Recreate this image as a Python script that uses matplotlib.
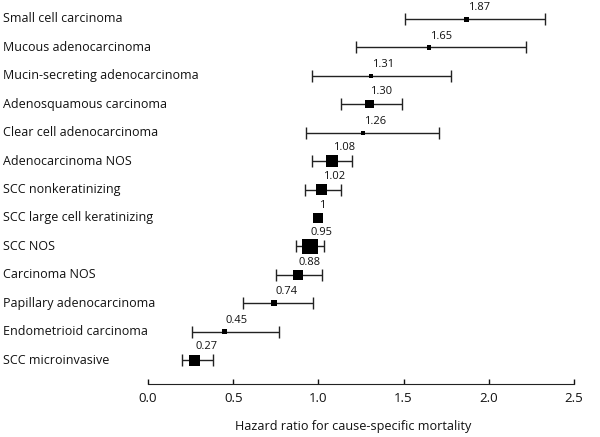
import numpy as np
import matplotlib.pyplot as plt
from matplotlib.transforms import blended_transform_factory

plt.rcParams['font.family'] = ['Open Sans', 'DejaVu Sans']

categories = [
    'Small cell carcinoma',
    'Mucous adenocarcinoma',
    'Mucin-secreting adenocarcinoma',
    'Adenosquamous carcinoma',
    'Clear cell adenocarcinoma',
    'Adenocarcinoma NOS',
    'SCC nonkeratinizing',
    'SCC large cell keratinizing',
    'SCC NOS',
    'Carcinoma NOS',
    'Papillary adenocarcinoma',
    'Endometrioid carcinoma',
    'SCC microinvasive',
]
hr = [1.87, 1.65, 1.31, 1.30, 1.26, 1.08, 1.02, 1.00, 0.95, 0.88, 0.74, 0.45, 0.27]
hr_text = ['1.87', '1.65', '1.31', '1.30', '1.26', '1.08', '1.02', '1',
           '0.95', '0.88', '0.74', '0.45', '0.27']
ci_low = [1.51, 1.22, 0.96, 1.13, 0.93, 0.96, 0.92, np.nan, 0.87, 0.75, 0.56, 0.26, 0.20]
ci_high = [2.33, 2.22, 1.78, 1.49, 1.71, 1.20, 1.13, np.nan, 1.03, 1.02, 0.97, 0.77, 0.38]
# relative weight of each estimate (box side, px)
weight = [5, 4.3, 3.8, 8.3, 4.3, 11.3, 10.7, 10, 15.3, 9.5, 5.5, 5, 11]

fig = plt.figure(figsize=(6, 4.37), dpi=100)
ax = fig.add_axes([148/600, 1 - 384/437, 426/600, 384/437])

y = np.arange(len(categories))
hr = np.array(hr)
lo = np.array(ci_low)
hi = np.array(ci_high)
box = np.array(weight) * 0.72  # px -> pt

for i in range(len(y)):
    if not np.isnan(lo[i]):
        ax.errorbar(hr[i], y[i], xerr=[[hr[i] - lo[i]], [hi[i] - hr[i]]],
                    fmt='none', ecolor='#222222', elinewidth=1, capsize=4.5,
                    capthick=1)
ax.scatter(hr, y, s=box**2, marker='s', color='black', zorder=3, linewidths=0)

for i in range(len(y)):
    off = 10 + weight[i] * 0.28
    ax.annotate(hr_text[i], (hr[i], y[i]), xytext=(1, off),
                textcoords='offset pixels', ha='left', va='center',
                fontsize=8, color='#111111')

trans = blended_transform_factory(fig.transFigure, ax.transData)
for i, c in enumerate(categories):
    ax.text(3/600, y[i], c, transform=trans, ha='left', va='center',
            fontsize=9, color='#111111')

ax.set_xlim(0, 2.5)
ax.set_ylim((384 - 19) / 28.42, -19 / 28.42)
ax.set_xticks([0, 0.5, 1.0, 1.5, 2.0, 2.5])
ax.set_xticklabels(['0.0', '0.5', '1.0', '1.5', '2.0', '2.5'])
ax.set_yticks([])
for s in ['top', 'right', 'left']:
    ax.spines[s].set_visible(False)
ax.spines['bottom'].set_color('#222222')
ax.tick_params(axis='x', direction='in', length=3.5, width=1, pad=6,
               labelsize=9.5, colors='#111111')
ax.set_xlabel('Hazard ratio for cause-specific mortality', fontsize=9.1,
              color='#111111')
ax.xaxis.set_label_coords(0.481, -36 / 384)
ax.patch.set_visible(False)

fig.savefig('out.png', dpi=100)
